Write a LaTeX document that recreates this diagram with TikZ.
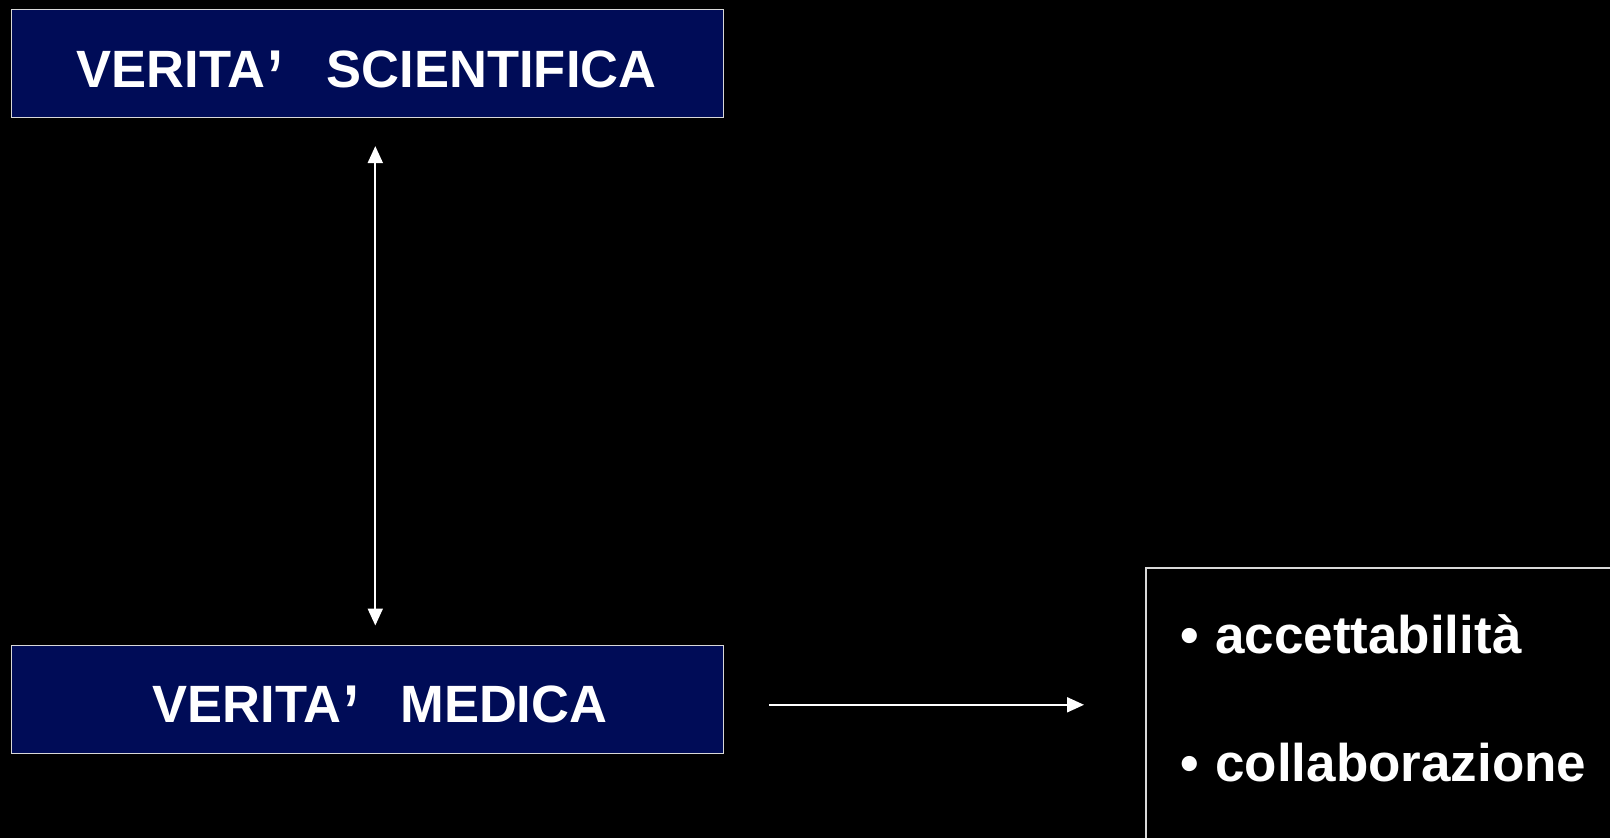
\documentclass[tikz,border=0pt]{standalone}
\usepackage{fontspec}
\setmainfont{Liberation Sans}
\usetikzlibrary{arrows.meta}
\definecolor{navy}{HTML}{000C57}
\definecolor{rim}{HTML}{D8D8D8}
% tall closing quote, set over the following gap
\newcommand{\wideapos}{\rlap{\hspace{2pt}\raisebox{-14pt}{\scalebox{1.1}[1.4]{’}}}}
\begin{document}
\begin{tikzpicture}[x=1pt,y=-1pt,
  titlebox/.style={draw=rim, line width=1.6pt, fill=navy, minimum width=712pt,
    minimum height=108pt, inner sep=0pt, anchor=north west},
  titletext/.style={text=white, font=\fontsize{52.5}{60}\selectfont\bfseries,
    anchor=base west, inner sep=0pt},
  listbox/.style={draw=rim, line width=1.6pt, minimum width=600pt,
    minimum height=400pt, inner sep=0pt, anchor=north west},
  itemtext/.style={text=white, font=\fontsize{53}{60}\selectfont\bfseries,
    anchor=base west, inner sep=0pt},
  link/.style={draw=white, line width=2pt,
    arrows={-Triangle[length=17pt,width=15pt]}},
  biglink/.style={link, arrows={Triangle[length=17pt,width=15pt]-Triangle[length=17pt,width=15pt]}}
]
\fill[black] (0,0) rectangle (1610,838);
\useasboundingbox (0,0) rectangle (1610,838);

% the two statements
\node[titlebox] (sci) at (10.5,8.5) {};
\node[titletext] (scitext) at (76.5,87) {VERITA\wideapos\hspace{61.5pt}SCIENTIFICA};
\node[titlebox] (med) at (10.5,644.5) {};
\node[titletext] (medtext) at (152.5,722) {VERITA\wideapos\hspace{59pt}MEDICA};

% list of consequences
\node[listbox] (res) at (1145,567) {};
\node[itemtext] (acc) at (1180,653) {•\hspace{16.5pt}accettabilità};
\node[itemtext] (col) at (1180,781) {•\hspace{16.5pt}collaborazione};

% connectors
\draw[biglink] ([xshift=8pt,yshift=-28pt]sci.south) -- ([xshift=8pt,yshift=19pt]med.north);
\draw[link] ([xshift=45pt,yshift=-5.5pt]med.east) -- ([xshift=-61pt,yshift=-5.5pt]res.west |- med.east);
\end{tikzpicture}
\end{document}
